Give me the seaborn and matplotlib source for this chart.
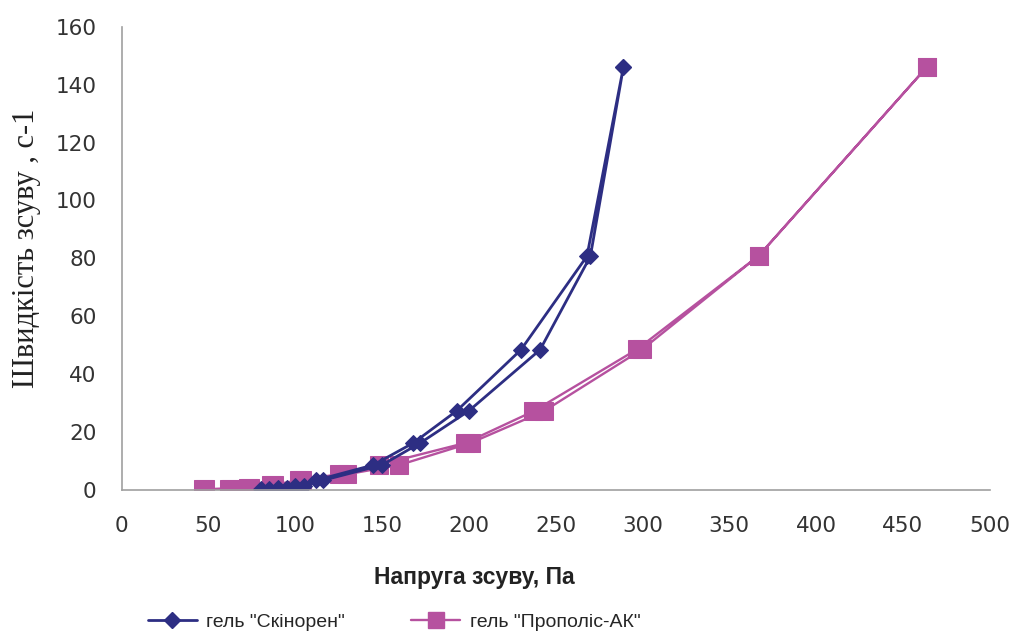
import matplotlib
matplotlib.use("Agg")
import matplotlib.pyplot as plt
import seaborn as sns
import pandas as pd
from matplotlib.lines import Line2D

# Data (hysteresis loops: up curve then down curve)
skinoren_stress = [80, 90, 100, 112, 145, 168, 193, 230, 268, 289,
                   289, 270, 241, 200, 172, 150, 116, 105, 95, 85]
skinoren_rate = [0.3, 0.6, 1.5, 3.3, 8.6, 16.2, 27.3, 48.4, 80.7, 146,
                 146, 80.7, 48.4, 27.3, 16.2, 8.6, 3.3, 1.5, 0.6, 0.3]

propolis_stress = [47, 62, 73, 86, 102, 125, 148, 198, 237, 297, 367, 464,
                   464, 367, 300, 243, 201, 160, 130, 104, 88, 74, 63, 48]
propolis_rate = [0.2, 0.4, 0.8, 1.6, 3.3, 5.4, 8.6, 16.2, 27.1, 48.6, 80.9, 146.2,
                 146.2, 80.9, 48.6, 27.1, 16.2, 8.6, 5.4, 3.3, 1.6, 0.8, 0.4, 0.2]

series_names = ['гель "Скінорен"', 'гель "Прополіс-АК"']
x_ticks = [0, 50, 100, 150, 200, 250, 300, 350, 400, 450, 500]
y_ticks = [0, 20, 40, 60, 80, 100, 120, 140, 160]

navy = "#2d2e83"
pink = "#b6519f"

sns.set_theme(style="white")
plt.rcParams['font.family'] = ['DejaVu Sans']

fig = plt.figure(figsize=(10.14, 6.37), dpi=100)
ax = fig.add_axes([0.120, 0.231, 0.856, 0.727])

df1 = pd.DataFrame({"x": skinoren_stress, "y": skinoren_rate})
df2 = pd.DataFrame({"x": propolis_stress, "y": propolis_rate})

sns.lineplot(data=df2, x="x", y="y", sort=False, estimator=None, ax=ax,
             color=pink, linewidth=1.7, marker="s", markersize=12.5,
             markeredgecolor=pink, markerfacecolor=pink)
sns.lineplot(data=df1, x="x", y="y", sort=False, estimator=None, ax=ax,
             color=navy, linewidth=2.0, marker="D", markersize=8.5,
             markeredgecolor=navy, markerfacecolor=navy)

ax.set_xlim(0, 500)
ax.set_ylim(0, 160)
ax.set_xticks(x_ticks)
ax.set_yticks(y_ticks)
ax.tick_params(axis="both", which="major", labelsize=15.5, colors="#a0a0a0",
               direction="out", length=6, width=1)
ax.tick_params(axis="x", pad=13)
ax.tick_params(axis="y", pad=12)
for lab in ax.get_xticklabels() + ax.get_yticklabels():
    lab.set_color("#333333")

for s in ["top", "right"]:
    ax.spines[s].set_visible(False)
for s in ["left", "bottom"]:
    ax.spines[s].set_color("#a0a0a0")
    ax.spines[s].set_linewidth(1.2)

ax.set_xlabel("")
ax.set_ylabel("")
fig.text(0.468, 0.094, "Напруга зсуву, Па", fontsize=16.5, fontweight="bold",
         family=["Liberation Sans", "DejaVu Sans"], color="#222222",
         ha="center", va="center")
fig.text(0.026, 0.61, "Швидкість зсуву , с-1", fontsize=22, rotation=90,
         family=["Liberation Serif", "DejaVu Serif"], color="#222222",
         ha="center", va="center")

handles = [
    Line2D([0], [0], color=navy, linewidth=2.0, marker="D", markersize=8.5),
    Line2D([0], [0], color=pink, linewidth=1.7, marker="s", markersize=12),
]
fig.legend(handles, series_names, loc="center left", bbox_to_anchor=(0.146, 0.023),
           ncol=2, frameon=False, columnspacing=3.4, handlelength=2.5,
           handletextpad=0.5, borderpad=0, borderaxespad=0,
           prop={"family": ["Liberation Sans Narrow", "Liberation Sans", "DejaVu Sans"], "size": 14})

fig.savefig("out.png", dpi=100)
